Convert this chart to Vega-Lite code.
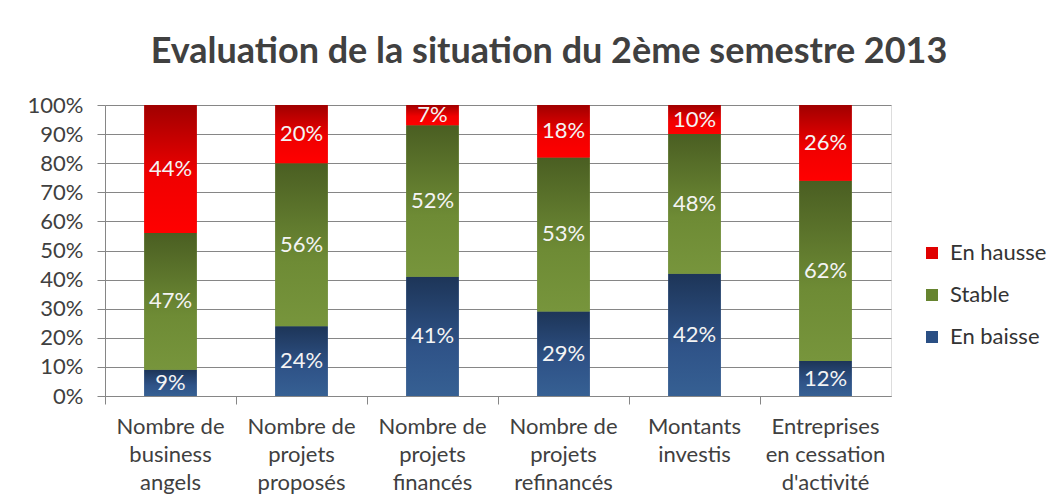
{
  "$schema": "https://vega.github.io/schema/vega-lite/v6.json",
  "width": 786,
  "height": 291,
  "autosize": {"type": "none"},
  "padding": {"left": 105, "top": 105, "right": 166, "bottom": 105},
  "background": "white",
  "title": {
    "text": "Evaluation de la situation du 2ème semestre 2013",
    "font": "Lato",
    "fontSize": 36,
    "fontWeight": "bold",
    "color": "#404040",
    "anchor": "middle",
    "dx": 51,
    "offset": 23
  },
  "data": {
    "values": [
      {"cat": "Nombre de\nbusiness\nangels", "serie": "En baisse", "o": 1, "v": 0.09},
      {"cat": "Nombre de\nbusiness\nangels", "serie": "Stable", "o": 2, "v": 0.47},
      {"cat": "Nombre de\nbusiness\nangels", "serie": "En hausse", "o": 3, "v": 0.44},
      {"cat": "Nombre de\nprojets\nproposés", "serie": "En baisse", "o": 1, "v": 0.24},
      {"cat": "Nombre de\nprojets\nproposés", "serie": "Stable", "o": 2, "v": 0.56},
      {"cat": "Nombre de\nprojets\nproposés", "serie": "En hausse", "o": 3, "v": 0.20},
      {"cat": "Nombre de\nprojets\nfinancés", "serie": "En baisse", "o": 1, "v": 0.41},
      {"cat": "Nombre de\nprojets\nfinancés", "serie": "Stable", "o": 2, "v": 0.52},
      {"cat": "Nombre de\nprojets\nfinancés", "serie": "En hausse", "o": 3, "v": 0.07},
      {"cat": "Nombre de\nprojets\nrefinancés", "serie": "En baisse", "o": 1, "v": 0.29},
      {"cat": "Nombre de\nprojets\nrefinancés", "serie": "Stable", "o": 2, "v": 0.53},
      {"cat": "Nombre de\nprojets\nrefinancés", "serie": "En hausse", "o": 3, "v": 0.18},
      {"cat": "Montants\ninvestis", "serie": "En baisse", "o": 1, "v": 0.42},
      {"cat": "Montants\ninvestis", "serie": "Stable", "o": 2, "v": 0.48},
      {"cat": "Montants\ninvestis", "serie": "En hausse", "o": 3, "v": 0.10},
      {"cat": "Entreprises\nen cessation\nd'activité", "serie": "En baisse", "o": 1, "v": 0.12},
      {"cat": "Entreprises\nen cessation\nd'activité", "serie": "Stable", "o": 2, "v": 0.62},
      {"cat": "Entreprises\nen cessation\nd'activité", "serie": "En hausse", "o": 3, "v": 0.26}
    ]
  },
  "transform": [
    {"stack": "v", "groupby": ["cat"], "sort": [{"field": "o", "order": "ascending"}], "as": ["y0", "y1"]},
    {"calculate": "(datum.y0 + datum.y1) / 2", "as": "ym"}
  ],
  "encoding": {
    "x": {
      "field": "cat",
      "type": "nominal",
      "sort": null,
      "scale": {"paddingInner": 0, "paddingOuter": 0},
      "axis": {
        "title": null,
        "labelAngle": 0,
        "labelExpr": "split(datum.label, '\\n')",
        "labelFont": "Lato",
        "labelFontSize": 22,
        "labelLineHeight": 28,
        "labelColor": "#404040",
        "labelPadding": 12,
        "labelBaseline": "top",
        "bandPosition": 0,
        "tickSize": 8,
        "tickColor": "#868686",
        "domainColor": "#868686",
        "grid": false,
        "labelLimit": 0
      }
    }
  },
  "layer": [
    {
      "mark": {"type": "bar", "width": {"band": 0.4}},
      "encoding": {
        "y": {
          "field": "y0",
          "type": "quantitative",
          "scale": {"domain": [0, 1]},
          "axis": {
            "title": null,
            "format": ".0%",
            "values": [0, 0.1, 0.2, 0.3, 0.4, 0.5, 0.6, 0.7, 0.8, 0.9, 1],
            "labelFont": "Lato",
            "labelFontSize": 22,
            "labelColor": "#404040",
            "labelPadding": 14,
            "tickSize": 8,
            "tickColor": "#868686",
            "domainColor": "#868686",
            "gridColor": "#868686",
            "gridWidth": 1
          }
        },
        "y2": {"field": "y1"},
        "color": {
          "field": "serie",
          "type": "nominal",
          "scale": {"domain": ["En hausse", "Stable", "En baisse"], "range": ["#e00000", "#66842f", "#2a4f84"]},
          "legend": {
            "title": null,
            "orient": "none",
            "legendX": 816,
            "legendY": 137,
            "symbolType": "square",
            "symbolSize": 144,
            "symbolStrokeWidth": 0,
            "labelFont": "Lato",
            "labelFontSize": 22,
            "labelColor": "#333333",
            "rowPadding": 20,
            "labelOffset": 7
          }
        }
      }
    },
    {
      "mark": {"type": "bar", "width": {"band": 0.4}},
      "encoding": {
        "y": {
          "field": "y0",
          "type": "quantitative",
          "scale": {"domain": [0, 1]},
          "axis": {
            "title": null,
            "format": ".0%",
            "values": [0, 0.1, 0.2, 0.3, 0.4, 0.5, 0.6, 0.7, 0.8, 0.9, 1],
            "labelFont": "Lato",
            "labelFontSize": 22,
            "labelColor": "#404040",
            "labelPadding": 14,
            "tickSize": 8,
            "tickColor": "#868686",
            "domainColor": "#868686",
            "gridColor": "#868686",
            "gridWidth": 1
          }
        },
        "y2": {"field": "y1"},
        "fill": {
          "condition": [
            {"test": "datum.serie === 'En hausse'", "value": {"gradient": "linear", "x1": 0, "y1": 0, "x2": 0, "y2": 1, "stops": [{"offset": 0, "color": "#a00000"}, {"offset": 0.55, "color": "#f00000"}, {"offset": 1, "color": "#ff0000"}]}},
            {"test": "datum.serie === 'Stable'", "value": {"gradient": "linear", "x1": 0, "y1": 0, "x2": 0, "y2": 1, "stops": [{"offset": 0, "color": "#4a5e22"}, {"offset": 0.6, "color": "#6e8b35"}, {"offset": 1, "color": "#77953c"}]}}
          ],
          "value": {"gradient": "linear", "x1": 0, "y1": 0, "x2": 0, "y2": 1, "stops": [{"offset": 0, "color": "#1d3558"}, {"offset": 0.6, "color": "#2f5388"}, {"offset": 1, "color": "#366093"}]}
        }
      }
    },
    {
      "mark": {"type": "text", "font": "Lato", "fontSize": 22, "color": "#f4f4f4", "baseline": "middle", "align": "center"},
      "encoding": {
        "y": {
          "field": "ym",
          "type": "quantitative",
          "scale": {"domain": [0, 1]},
          "axis": {
            "title": null,
            "format": ".0%",
            "values": [0, 0.1, 0.2, 0.3, 0.4, 0.5, 0.6, 0.7, 0.8, 0.9, 1],
            "labelFont": "Lato",
            "labelFontSize": 22,
            "labelColor": "#404040",
            "labelPadding": 14,
            "tickSize": 8,
            "tickColor": "#868686",
            "domainColor": "#868686",
            "gridColor": "#868686",
            "gridWidth": 1
          }
        },
        "text": {"field": "v", "type": "quantitative", "format": ".0%"}
      }
    }
  ]
}
